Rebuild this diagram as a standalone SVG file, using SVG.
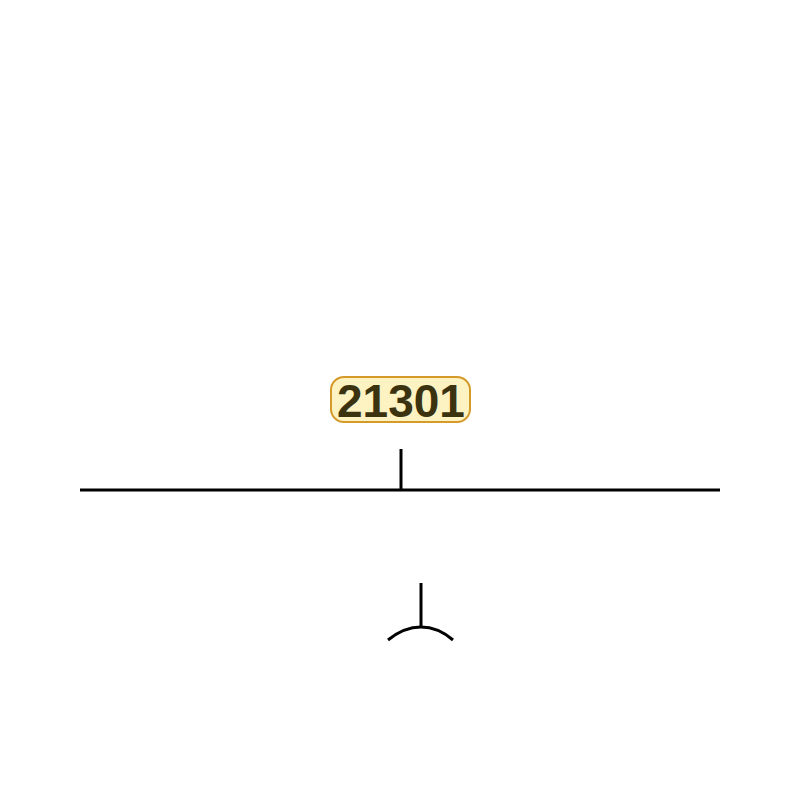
<svg xmlns="http://www.w3.org/2000/svg" width="800" height="800" viewBox="0 0 800 800">
<style>
.ln{stroke:#000;stroke-width:3;fill:none}
.lbl{font-family:"Liberation Sans",Arial,sans-serif;font-weight:bold;font-size:46px;fill:#3b3310;text-anchor:middle}
</style>
<rect width="800" height="800" fill="#fff"/>
<g id="connectors">
<line class="ln" x1="80" y1="490" x2="720" y2="490"/>
<line class="ln" x1="401" y1="449" x2="401" y2="490"/>
<line class="ln" x1="421" y1="583" x2="421" y2="628"/>
<path class="ln" d="M388,640 Q404,627 421,627 Q438,627 453,640"/>
</g>
<g id="node-21301">
<rect x="331" y="377" width="139" height="45" rx="13" fill="#fdf2c2" stroke="#d49a2a" stroke-width="2"/>
<text class="lbl" x="401" y="416.5">21301</text>
</g>
</svg>
